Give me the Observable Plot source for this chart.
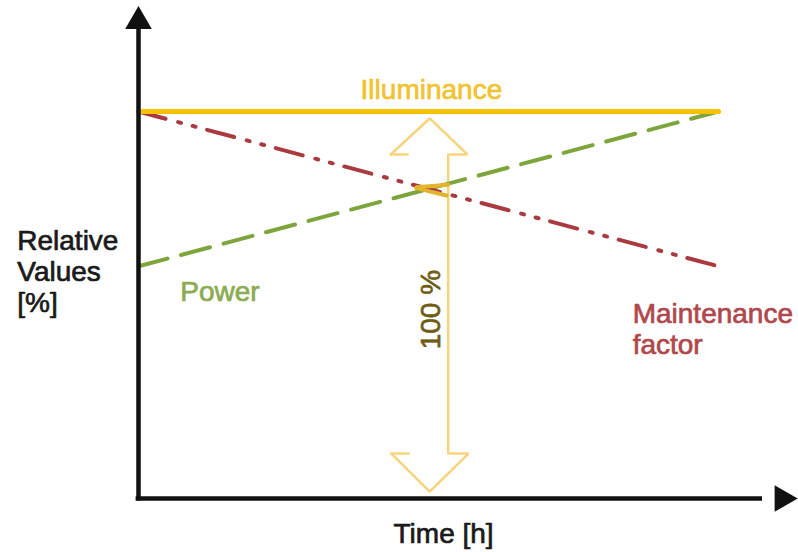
<!DOCTYPE html>
<html>
<head>
<meta charset="utf-8">
<script src="https://cdn.jsdelivr.net/npm/d3@7"></script>
<script src="https://cdn.jsdelivr.net/npm/@observablehq/plot@0.6"></script>
<style>
  html, body { margin: 0; padding: 0; background: #fff; }
  svg { display: block; }
</style>
</head>
<body>
<div id="chart"></div>
<script>
// ---- data (time %, relative value %) ----
const time = [0, 100];
const illuminance = [100, 100];
const power = [60, 100];
const maintenance = [100, 60];

// axes with arrowheads (data units)
const axisLines = [
  {x1: 0, y1: -0.5, x2: 0, y2: 121.4},
  {x1: -0.5, y1: 0, x2: 107.5, y2: 0}
];
const axisHeads = [
  {x: 0, y: 123.3, rotate: 0},
  {x: 111.0, y: 0, rotate: 90}
];

// hollow double arrow marking 100 %
const arrowTop = [{x: 43.5, y: 88.9}, {x: 50.2, y: 98.2}, {x: 56.7, y: 88.9}, {x: 53.4, y: 88.9}];
const arrowTopL = [{x: 43.5, y: 88.9}, {x: 46.4, y: 88.9}];
const arrowBot = [{x: 43.6, y: 11.6}, {x: 50.2, y: 1.8}, {x: 56.9, y: 11.6}, {x: 53.4, y: 11.6}];
const arrowBotL = [{x: 43.6, y: 11.6}, {x: 46.6, y: 11.6}];
const arrowShaft = [{x: 53.4, y1: 11.6, y2: 88.9}];

// small mark at the intersection
const crossMark1 = [{x: 47.9, y: 80.4}, {x: 53.4, y: 81.1}];
const crossMark2 = [{x: 47.9, y: 80.2}, {x: 53.1, y: 78.3}];

// labels
const labels = [
  {x: 50.5, y: 105.9, text: "Illuminance", color: "#f2c232", anchor: "middle", rotate: 0},
  {x: 7.2, y: 53.7, text: "Power", color: "#8cab52", anchor: "start", rotate: 0},
  {x: 85.2, y: 43.9, text: "Maintenance\nfactor", color: "#b0474c", anchor: "start", rotate: 0},
  {x: -20.9, y: 58.7, text: "Relative\nValues\n[%]", color: "#1a1a1a", anchor: "start", rotate: 0},
  {x: 50.3, y: 48.8, text: "100 %", color: "#6e5c14", anchor: "middle", rotate: -90},
  {x: 52.6, y: -9.0, text: "Time [h]", color: "#1a1a1a", anchor: "middle", rotate: 0}
];

const series = (vals) => time.map((t, i) => ({x: t, y: vals[i]}));
const arrowColor = "#f7d47c";

const chart = Plot.plot({
  width: 798,
  height: 552,
  margin: 0,
  style: {background: "#fff", fontFamily: "'Liberation Sans', Arial, sans-serif"},
  x: {domain: [0, 100], range: [138, 718], axis: null},
  y: {domain: [0, 100], range: [498, 111], axis: null},
  marks: [
    // hollow double arrow
    Plot.line(arrowTop, {x: "x", y: "y", stroke: arrowColor, strokeWidth: 2.5, strokeLinejoin: "miter"}),
    Plot.line(arrowTopL, {x: "x", y: "y", stroke: arrowColor, strokeWidth: 2.5}),
    Plot.line(arrowBot, {x: "x", y: "y", stroke: arrowColor, strokeWidth: 2.5, strokeLinejoin: "miter"}),
    Plot.line(arrowBotL, {x: "x", y: "y", stroke: arrowColor, strokeWidth: 2.5}),
    Plot.ruleX(arrowShaft, {x: "x", y1: "y1", y2: "y2", stroke: arrowColor, strokeWidth: 2.5}),
    // series
    Plot.line(series(power), {x: "x", y: "y", stroke: "#7ea53c", strokeWidth: 4, strokeDasharray: "30 14"}),
    Plot.line(series(maintenance), {x: "x", y: "y", stroke: "#a93a40", strokeWidth: 4, strokeDasharray: "28 13 3 12 3 12"}),
    Plot.line(series(illuminance), {x: "x", y: "y", stroke: "#f6c200", strokeWidth: 5}),
    // intersection mark
    Plot.line(crossMark1, {x: "x", y: "y", stroke: "#e4b42c", strokeWidth: 4}),
    Plot.line(crossMark2, {x: "x", y: "y", stroke: "#e4b42c", strokeWidth: 4}),
    // axes
    Plot.link(axisLines, {x1: "x1", y1: "y1", x2: "x2", y2: "y2", stroke: "#111", strokeWidth: 4.5}),
    Plot.dot(axisHeads, {x: "x", y: "y", symbol: "triangle", r: 9.9, fill: "#111", stroke: "none", rotate: "rotate"}),
    // labels
    Plot.text(labels.filter(d => d.anchor === "start"), {
      x: "x", y: "y", text: "text", fill: "color", stroke: "color", strokeWidth: 0.7, textAnchor: "start",
      fontSize: 28, lineHeight: 1.1, rotate: "rotate"
    }),
    Plot.text(labels.filter(d => d.anchor === "middle"), {
      x: "x", y: "y", text: "text", fill: "color", stroke: "color", strokeWidth: 0.7, textAnchor: "middle",
      fontSize: 28, lineHeight: 1.1, rotate: "rotate"
    })
  ]
});
document.getElementById("chart").appendChild(chart);
</script>
</body>
</html>
